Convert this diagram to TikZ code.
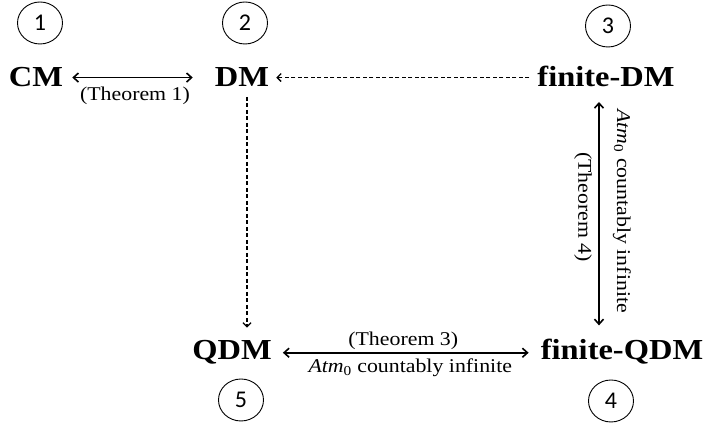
\documentclass[tikz,border=0pt]{standalone}
\usepackage{fontspec}
\setmainfont{Liberation Serif}
\newfontfamily\numfont{Carlito}
\usetikzlibrary{arrows.meta,shapes.geometric}
\newcommand{\wide}[1]{\scalebox{1.12}[1]{#1}}

\begin{document}
\begin{tikzpicture}[x=1pt,y=1pt,
    model/.style={inner sep=0pt, anchor=base, font=\fontsize{29}{32}\selectfont\bfseries},
    num/.style={ellipse, draw, line width=0.9pt, minimum width=45pt, minimum height=42pt, inner sep=0pt, font=\numfont\fontsize{24}{26}\selectfont},
    lab/.style={inner sep=0pt, font=\fontsize{19.5}{22}\selectfont},
    arr/.style={line width=1.6pt, {Straight Barb[length=5pt,width=9pt]}-{Straight Barb[length=5pt,width=9pt]}},
    dsh/.style={line width=1.3pt, dash pattern=on 4pt off 2.5pt, -{Straight Barb[length=4pt,width=8pt]}}]

\useasboundingbox (0,0) rectangle (705,427);

    \node[model] (CM) at (36,340) {\wide{CM}};
    \node[model] (DM) at (242,340) {\wide{DM}};
    \node[model] (FDM) at (606,340) {\wide{finite-DM}};
    \node[model] (QDM) at (232,67) {\wide{QDM}};
    \node[model] (FQDM) at (622,67) {\wide{finite-QDM}};

    \node[num] (N1) at (40,404) {1};
    \node[num] (N2) at (245,404) {2};
    \node[num] (N3) at (608,401) {3};
    \node[num] (N5) at (241,27) {5};
    \node[num] (N4) at (611,26) {4};

\draw[arr, shorten <=9pt, shorten >=22pt] (CM.east) -- (CM.east -| DM.west) node[lab, midway, xshift=-4pt, yshift=-18pt] (T1) {\wide{(Theorem 1)}};
\draw[dsh, shorten <=8pt, shorten >=7pt] (DM.east -| FDM.west) -- (DM.east);
\draw[dsh, shorten <=10pt, shorten >=13pt] ([xshift=5pt]DM.base) -- ([xshift=5pt]DM.base |- QDM.north);
\draw[arr, shorten <=15pt, shorten >=14pt] ([xshift=-7pt]FDM.base) -- ([xshift=-7pt]FDM.base |- FQDM.north) node[lab, midway, xshift=-16pt, yshift=6pt, rotate=-90] (T4) {\wide{(Theorem 4)}} node[lab, midway, xshift=23pt, yshift=2pt, rotate=-90] (A4) {\wide{\textit{Atm}\textsubscript{0} countably infinite}};
\draw[arr, shorten <=11pt, shorten >=12pt] (QDM.east) -- (QDM.east -| FQDM.west) node[lab, midway, xshift=-3pt, yshift=12pt] (T3) {\wide{(Theorem 3)}} node[lab, midway, xshift=4pt, yshift=-15pt] (A3) {\wide{\textit{Atm}\textsubscript{0} countably infinite}};

\end{tikzpicture}
\end{document}
